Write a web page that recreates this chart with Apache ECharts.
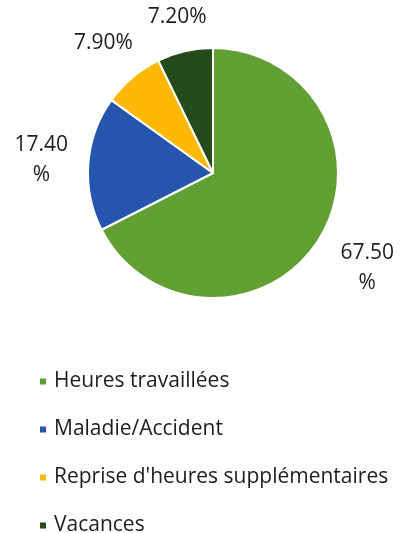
<!DOCTYPE html>
<html>
<head>
<meta charset="utf-8">
<script src="https://cdn.jsdelivr.net/npm/echarts@6/dist/echarts.min.js"></script>
<style>
  html, body { margin: 0; padding: 0; background: #fff; }
  #chart { width: 403px; height: 533px; }
</style>
</head>
<body>
<div id="chart"></div>
<script>
// données
const categories = ['Heures travaillées', 'Maladie/Accident', "Reprise d'heures supplémentaires", 'Vacances'];
const values = [67.5, 17.4, 7.9, 7.2];
const colors = ['#62a033', '#2655ae', '#ffb905', '#264a19'];

const center = [213, 173];
const radius = 125;
const gap = 13; // écart entre le bord du camembert et l'étiquette

// angle milieu de chaque part (départ en haut, sens horaire)
const total = values.reduce((a, b) => a + b, 0);
let acc = 0;
const midAngles = values.map(v => {
  const mid = (acc + v / 2) / total * 2 * Math.PI;
  acc += v;
  return mid;
});

const chart = echarts.init(document.getElementById('chart'));
chart.setOption({
  animation: false,
  legend: {
    orient: 'vertical',
    left: 38,
    top: 371,
    height: 220,
    padding: 0,
    itemWidth: 8,
    itemHeight: 8,
    itemGap: 27,
    icon: 'rect',
    textStyle: { fontFamily: 'Open Sans', fontSize: 21, color: '#1e1e1e', padding: [0, 0, 0, 2] },
    data: categories
  },
  series: [{
    type: 'pie',
    center: center,
    radius: radius,
    startAngle: 90,
    clockwise: true,
    itemStyle: { borderColor: '#fff', borderWidth: 2 },
    label: {
      show: true,
      position: 'outside',
      fontFamily: 'Open Sans',
      fontSize: 21,
      color: '#1e1e1e',
      lineHeight: 30,
      width: 64,
      overflow: 'breakAll',
      align: 'center',
      formatter: p => p.value.toFixed(2) + '%'
    },
    labelLine: { show: false },
    labelLayout: params => {
      const a = midAngles[params.dataIndex];
      const dx = Math.sin(a), dy = -Math.cos(a);
      const w = params.labelRect.width, h = params.labelRect.height;
      const d = radius + gap + w / 2 * Math.abs(dx) + h / 2 * Math.abs(dy);
      return {
        x: center[0] + d * dx,
        y: center[1] + d * dy,
        align: 'center',
        verticalAlign: 'middle'
      };
    },
    data: categories.map((c, i) => ({ name: c, value: values[i], itemStyle: { color: colors[i] } }))
  }]
});
</script>
</body>
</html>
